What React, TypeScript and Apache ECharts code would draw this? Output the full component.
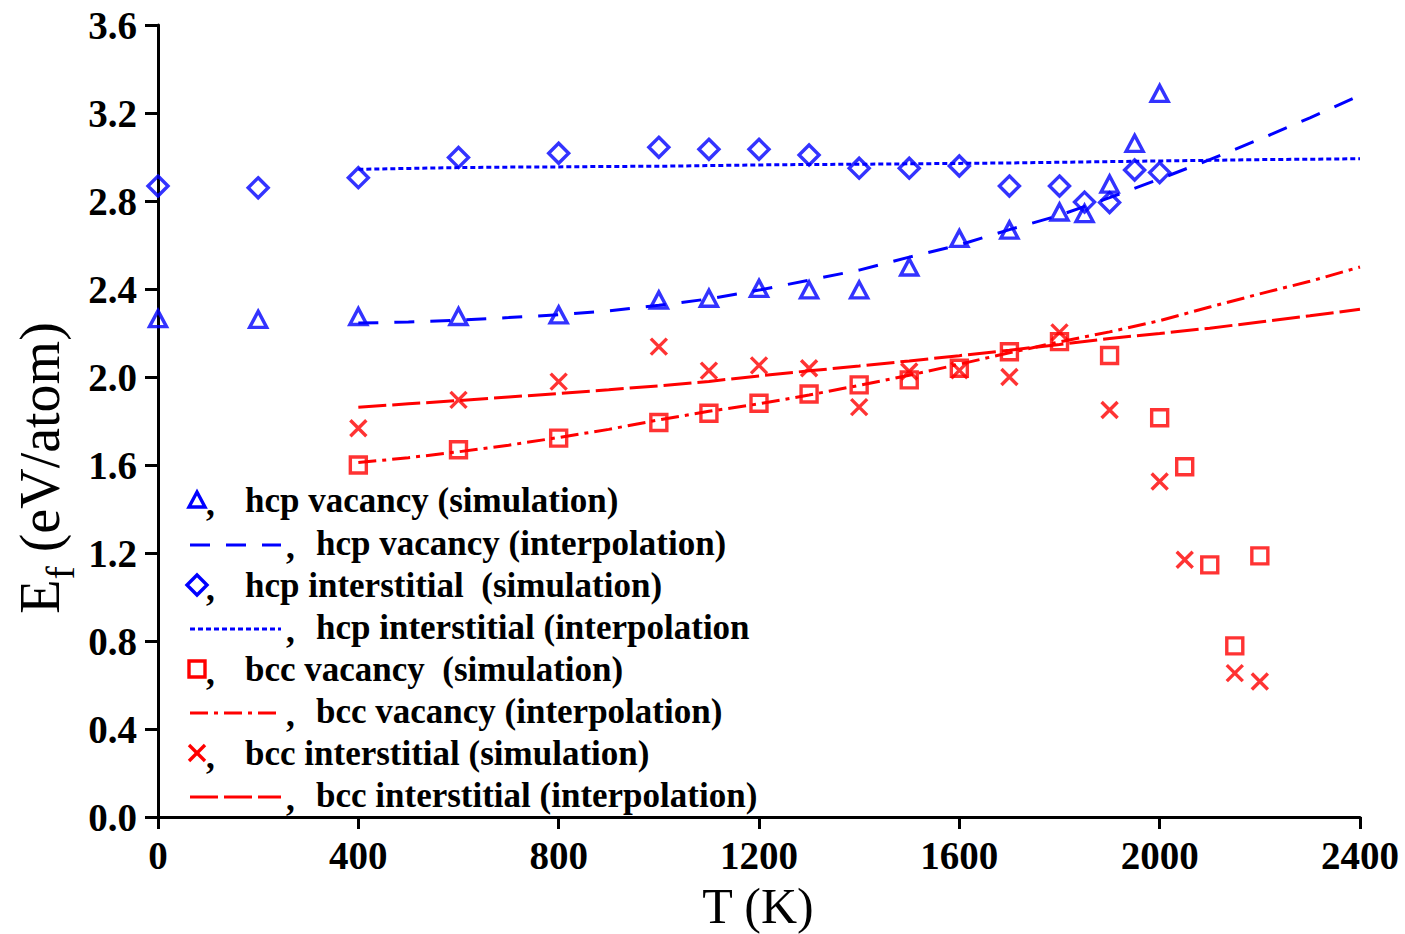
import React, { useEffect, useRef } from 'react';
import * as echarts from 'echarts';

// ---------- data ----------
const X_MIN = 0;
const X_MAX = 2400;
const X_STEP = 400;
const Y_MIN = 0;
const Y_MAX = 3.6;
const Y_STEP = 0.4;

const hcpVacSimT = [0, 200, 400, 600, 800, 1000, 1100, 1200, 1300, 1400, 1500, 1600, 1700, 1800, 1850, 1900, 1950, 2000];
const hcpVacSimE = [2.265, 2.262, 2.275, 2.275, 2.282, 2.35, 2.358, 2.403, 2.396, 2.396, 2.5, 2.63, 2.668, 2.75, 2.743, 2.877, 3.062, 3.289];

const hcpIntSimT = [0, 200, 400, 600, 800, 1000, 1100, 1200, 1300, 1400, 1500, 1600, 1700, 1800, 1850, 1900, 1950, 2000];
const hcpIntSimE = [2.868, 2.86, 2.906, 2.998, 3.017, 3.044, 3.035, 3.035, 3.009, 2.949, 2.949, 2.959, 2.868, 2.868, 2.795, 2.793, 2.941, 2.929];

const bccVacSimT = [400, 600, 800, 1000, 1100, 1200, 1300, 1400, 1500, 1600, 1700, 1800, 1900, 2000, 2050, 2100, 2150, 2200];
const bccVacSimE = [1.6, 1.669, 1.722, 1.793, 1.835, 1.881, 1.923, 1.964, 1.987, 2.04, 2.115, 2.161, 2.098, 1.815, 1.592, 1.146, 0.778, 1.187];

const bccIntSimT = [400, 600, 800, 1000, 1100, 1200, 1300, 1400, 1500, 1600, 1700, 1800, 1900, 2000, 2050, 2150, 2200];
const bccIntSimE = [1.767, 1.896, 1.979, 2.138, 2.029, 2.053, 2.04, 1.863, 2.025, 2.03, 2.0, 2.203, 1.85, 1.525, 1.169, 0.654, 0.616];

const interpT = [400, 500, 600, 700, 800, 900, 1000, 1100, 1200, 1300, 1400, 1500, 1600, 1700, 1800, 1900, 2000, 2100, 2200, 2300, 2400];
const hcpVacInterpE = [2.245, 2.25, 2.258, 2.27, 2.283, 2.3, 2.326, 2.355, 2.395, 2.44, 2.486, 2.545, 2.6, 2.67, 2.735, 2.815, 2.9, 2.988, 3.081, 3.178, 3.28];
const hcpIntInterpE = [2.944, 2.948, 2.952, 2.954, 2.955, 2.957, 2.958, 2.961, 2.964, 2.966, 2.967, 2.969, 2.971, 2.973, 2.976, 2.979, 2.982, 2.985, 2.988, 2.99, 2.992];
const bccVacInterpE = [1.611, 1.633, 1.66, 1.69, 1.725, 1.762, 1.805, 1.844, 1.878, 1.918, 1.962, 2.008, 2.058, 2.11, 2.16, 2.205, 2.256, 2.318, 2.378, 2.435, 2.5];
const bccIntInterpE = [1.863, 1.878, 1.893, 1.909, 1.925, 1.942, 1.96, 1.98, 2.005, 2.028, 2.05, 2.073, 2.097, 2.122, 2.148, 2.175, 2.198, 2.222, 2.25, 2.278, 2.308];

const legendLabels = [
  'hcp vacancy (simulation)',
  'hcp vacancy (interpolation)',
  'hcp interstitial  (simulation)',
  'hcp interstitial (interpolation',
  'bcc vacancy  (simulation)',
  'bcc vacancy (interpolation)',
  'bcc interstitial (simulation)',
  'bcc interstitial (interpolation)',
];

// ---------- styles ----------
const BLUE = '#0000ff';
const RED = '#ff0000';
const SERIF = '"Liberation Serif", "Times New Roman", serif';
const DASH_HCP_VAC = [20, 16];
const DASH_HCP_INT = [5, 3];
const DASH_BCC_VAC = [18, 6, 4, 6];
const DASH_BCC_INT = [28, 6];
const X_PATH = 'path://M0,0L10,10M10,0L0,10';
const MARK_W = 3.4;

const pairs = (xs: number[], ys: number[]) => xs.map((x, i) => [x, ys[i]]);

function buildOption() {
  const hollow = (c: string) => ({ color: 'rgba(0,0,0,0)', borderColor: c, borderWidth: MARK_W });
  const lineS = (name: string, ys: number[], color: string, dash: number[]) => ({
    name,
    type: 'line',
    data: pairs(interpT, ys),
    symbol: 'none',
    smooth: false,
    lineStyle: { color, width: 3, type: dash },
    z: 2,
  });

  // legend graphics
  const rowY = [500, 543, 585, 627, 669, 711, 753, 795];
  const symX = 197;
  const lineX0 = 190;
  const lineX1 = 281;
  const legendFont = `bold 35px ${SERIF}`;
  const g: any[] = [];
  const addText = (x: number, y: number, text: string) =>
    g.push({
      type: 'text',
      x,
      y,
      style: { text, font: legendFont, fill: '#000', textAlign: 'left', textVerticalAlign: 'middle' },
    });
  const addLine = (y: number, color: string, dash: number[]) =>
    g.push({
      type: 'line',
      shape: { x1: lineX0, y1: y, x2: lineX1, y2: y },
      style: { stroke: color, lineWidth: 3, lineDash: dash },
    });
  const simTextX = 245;
  const intTextX = 316;
  // row 1: triangle
  g.push({
    type: 'polygon',
    shape: { points: [[symX, rowY[0] - 8], [symX + 8, rowY[0] + 7], [symX - 8, rowY[0] + 7]] },
    style: { fill: 'none', stroke: BLUE, lineWidth: MARK_W },
  });
  addText(206, rowY[0] + 3, ',');
  addText(simTextX, rowY[0], legendLabels[0]);
  addLine(rowY[1] + 2, BLUE, DASH_HCP_VAC);
  addText(286, rowY[1] + 3, ',');
  addText(intTextX, rowY[1], legendLabels[1]);
  // row 3: diamond
  g.push({
    type: 'polygon',
    shape: { points: [[symX, rowY[2] - 10], [symX + 10, rowY[2]], [symX, rowY[2] + 10], [symX - 10, rowY[2]]] },
    style: { fill: 'none', stroke: BLUE, lineWidth: MARK_W },
  });
  addText(206, rowY[2] + 3, ',');
  addText(simTextX, rowY[2], legendLabels[2]);
  addLine(rowY[3] + 2, BLUE, DASH_HCP_INT);
  addText(286, rowY[3] + 3, ',');
  addText(intTextX, rowY[3], legendLabels[3]);
  // row 5: square
  g.push({
    type: 'rect',
    shape: { x: symX - 8, y: rowY[4] - 8, width: 16, height: 16 },
    style: { fill: 'none', stroke: RED, lineWidth: MARK_W },
  });
  addText(206, rowY[4] + 3, ',');
  addText(simTextX, rowY[4], legendLabels[4]);
  addLine(rowY[5] + 2, RED, DASH_BCC_VAC);
  addText(286, rowY[5] + 3, ',');
  addText(intTextX, rowY[5], legendLabels[5]);
  // row 7: cross
  g.push({
    type: 'line',
    shape: { x1: symX - 8, y1: rowY[6] - 8, x2: symX + 8, y2: rowY[6] + 8 },
    style: { stroke: RED, lineWidth: MARK_W },
  });
  g.push({
    type: 'line',
    shape: { x1: symX + 8, y1: rowY[6] - 8, x2: symX - 8, y2: rowY[6] + 8 },
    style: { stroke: RED, lineWidth: MARK_W },
  });
  addText(206, rowY[6] + 3, ',');
  addText(simTextX, rowY[6], legendLabels[6]);
  addLine(rowY[7] + 2, RED, DASH_BCC_INT);
  addText(286, rowY[7] + 3, ',');
  addText(intTextX, rowY[7], legendLabels[7]);

  // axis titles
  g.push({
    type: 'text',
    x: 758,
    y: 906,
    style: { text: 'T (K)', font: `50px ${SERIF}`, fill: '#000', textAlign: 'center', textVerticalAlign: 'middle' },
  });
  g.push({
    type: 'text',
    x: 40,
    y: 468,
    rotation: Math.PI / 2,
    style: {
      text: '{e|E}{s|f}{n| (eV/atom)}',
      fill: '#000',
      textAlign: 'center',
      textVerticalAlign: 'middle',
      rich: {
        e: { fontFamily: SERIF, fontSize: 56, lineHeight: 80, verticalAlign: 'middle' },
        s: { fontFamily: SERIF, fontSize: 40, lineHeight: 40, verticalAlign: 'bottom' },
        n: { fontFamily: SERIF, fontSize: 56, lineHeight: 80, verticalAlign: 'middle' },
      },
    },
  });

  return {
    animation: false,
    backgroundColor: '#fff',
    grid: { left: 158, top: 25, width: 1202, height: 792, containLabel: false, outerBoundsMode: 'none' },
    xAxis: {
      type: 'value',
      min: X_MIN,
      max: X_MAX,
      interval: X_STEP,
      axisLine: { show: true, lineStyle: { color: '#000', width: 3 } },
      axisTick: { show: true, inside: false, length: 12, lineStyle: { color: '#000', width: 3 } },
      axisLabel: {
        margin: 19,
        color: '#000',
        fontFamily: SERIF,
        fontWeight: 'bold',
        fontSize: 39,
        formatter: (v: number) => String(v),
      },
      splitLine: { show: false },
    },
    yAxis: {
      type: 'value',
      min: Y_MIN,
      max: Y_MAX,
      interval: Y_STEP,
      axisLine: { show: true, lineStyle: { color: '#000', width: 3 } },
      axisTick: { show: true, inside: false, length: 13, lineStyle: { color: '#000', width: 3 } },
      axisLabel: {
        margin: 21,
        color: '#000',
        fontFamily: SERIF,
        fontWeight: 'bold',
        fontSize: 39,
        formatter: (v: number) => v.toFixed(1),
      },
      splitLine: { show: false },
    },
    series: [
      {
        name: legendLabels[0],
        type: 'scatter',
        data: pairs(hcpVacSimT, hcpVacSimE),
        symbol: 'triangle',
        symbolSize: [17, 16],
        itemStyle: hollow(BLUE),
        z: 3,
      },
      lineS(legendLabels[1], hcpVacInterpE, BLUE, DASH_HCP_VAC),
      {
        name: legendLabels[2],
        type: 'scatter',
        data: pairs(hcpIntSimT, hcpIntSimE),
        symbol: 'diamond',
        symbolSize: 20,
        itemStyle: hollow(BLUE),
        z: 3,
      },
      lineS(legendLabels[3], hcpIntInterpE, BLUE, DASH_HCP_INT),
      {
        name: legendLabels[4],
        type: 'scatter',
        data: pairs(bccVacSimT, bccVacSimE),
        symbol: 'rect',
        symbolSize: 16,
        itemStyle: hollow(RED),
        z: 3,
      },
      lineS(legendLabels[5], bccVacInterpE, RED, DASH_BCC_VAC),
      {
        name: legendLabels[6],
        type: 'scatter',
        data: pairs(bccIntSimT, bccIntSimE),
        symbol: X_PATH,
        symbolSize: 16,
        itemStyle: hollow(RED),
        z: 3,
      },
      lineS(legendLabels[7], bccIntInterpE, RED, DASH_BCC_INT),
    ],
    graphic: g,
  };
}

export default function App() {
  const ref = useRef<HTMLDivElement>(null);
  useEffect(() => {
    if (!ref.current) return;
    const chart = echarts.init(ref.current, null, { renderer: 'svg' });
    chart.setOption(buildOption() as any);
    return () => chart.dispose();
  }, []);
  return (
    <div
      ref={ref}
      style={{ position: 'absolute', left: 0, top: 0, width: 1405, height: 934, background: '#fff' }}
    />
  );
}
